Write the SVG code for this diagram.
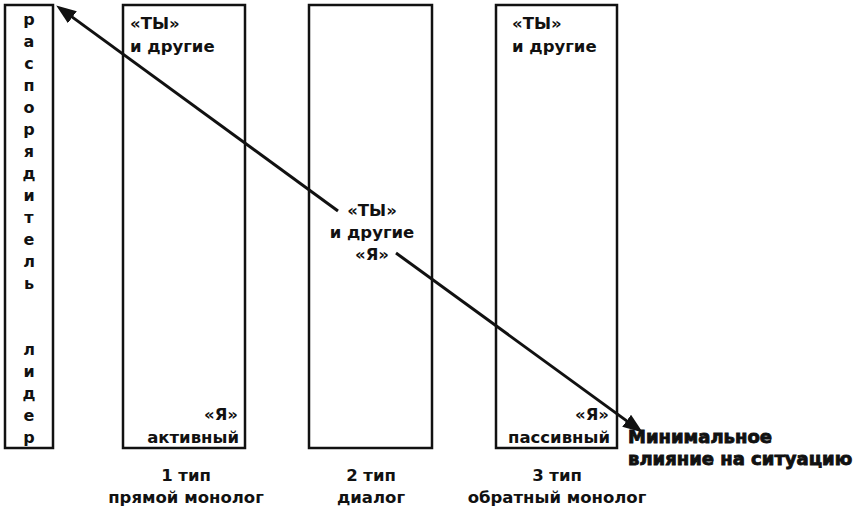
<svg xmlns="http://www.w3.org/2000/svg" width="862" height="511" viewBox="0 0 862 511">
  <style>
    .box { fill: none; stroke: #111; stroke-width: 2.5; }
    text { font-family: "DejaVu Sans", "Liberation Sans", sans-serif; font-weight: bold; font-size: 16.5px; fill: #111; }
    .mid { text-anchor: middle; }
    .end { text-anchor: end; }
    .vert { text-anchor: middle; font-size: 16px; }
    .heavy { font-size: 18px; stroke: #111; stroke-width: 0.9; }
    .conn { stroke: #111; stroke-width: 3; fill: none; marker-end: url(#head); }
  </style>
  <defs>
    <marker id="head" markerUnits="userSpaceOnUse" markerWidth="21" markerHeight="15" refX="9" refY="7.5" orient="auto">
      <path d="M0,0 L20,7.5 L0,15 z" fill="#111"/>
    </marker>
  </defs>
  <rect width="862" height="511" fill="#fff"/>

  <!-- left column: vertical caption -->
  <g id="leader">
    <rect class="box" x="5" y="5" width="48" height="443"/>
    <text class="vert" x="29" y="25">р</text>
    <text class="vert" x="29" y="47">а</text>
    <text class="vert" x="29" y="69">с</text>
    <text class="vert" x="29" y="91">п</text>
    <text class="vert" x="29" y="113">о</text>
    <text class="vert" x="29" y="135">р</text>
    <text class="vert" x="29" y="157">я</text>
    <text class="vert" x="29" y="179">д</text>
    <text class="vert" x="29" y="201">и</text>
    <text class="vert" x="29" y="223">т</text>
    <text class="vert" x="29" y="245">е</text>
    <text class="vert" x="29" y="267">л</text>
    <text class="vert" x="29" y="289">ь</text>
    <text class="vert" x="29" y="355">л</text>
    <text class="vert" x="29" y="377">и</text>
    <text class="vert" x="29" y="399">д</text>
    <text class="vert" x="29" y="421">е</text>
    <text class="vert" x="29" y="443">р</text>
  </g>

  <!-- type 1: direct monologue -->
  <g id="type1">
    <rect class="box" x="123" y="5" width="122" height="443"/>
    <text x="130" y="29">«ТЫ»</text>
    <text x="130" y="52">и другие</text>
    <text class="end" x="238" y="420">«Я»</text>
    <text class="end" x="239" y="443">активный</text>
    <text class="mid" x="186" y="481">1 тип</text>
    <text class="mid" x="186" y="503">прямой монолог</text>
  </g>

  <!-- type 2: dialogue -->
  <g id="type2">
    <rect class="box" x="309" y="5" width="123" height="443"/>
    <text class="mid" x="372" y="216">«ТЫ»</text>
    <text class="mid" x="372" y="238">и другие</text>
    <text class="mid" x="372" y="260">«Я»</text>
    <text class="mid" x="371" y="481">2 тип</text>
    <text class="mid" x="371" y="503">диалог</text>
  </g>

  <!-- type 3: reverse monologue -->
  <g id="type3">
    <rect class="box" x="496" y="5" width="121" height="443"/>
    <text x="512" y="29">«ТЫ»</text>
    <text x="512" y="52">и другие</text>
    <text class="end" x="609" y="420">«Я»</text>
    <text class="end" x="610" y="443">пассивный</text>
    <text class="mid" x="557" y="481">3 тип</text>
    <text class="mid" x="557" y="503">обратный монолог</text>
  </g>

  <g id="outcome">
    <text class="heavy" x="628" y="443">Минимальное</text>
    <text class="heavy" x="628" y="465">влияние на ситуацию</text>
  </g>

  <!-- influence axis, split around the central label -->
  <g id="connectors">
    <line class="conn" x1="338" y1="211" x2="65.1" y2="11.9"/>
    <line class="conn" x1="396" y1="253" x2="633.9" y2="426.1"/>
  </g>
</svg>
